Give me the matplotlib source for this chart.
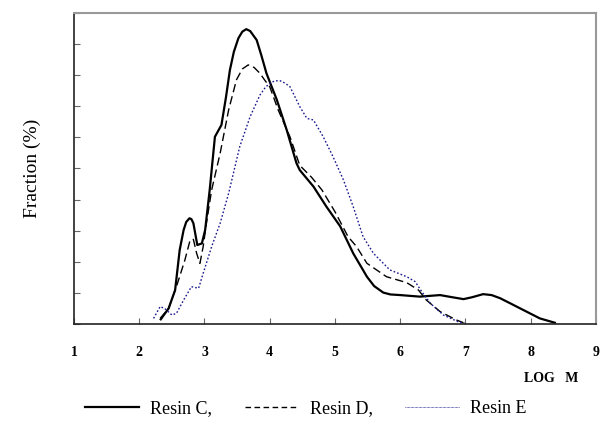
import matplotlib
matplotlib.use("Agg")
import matplotlib.pyplot as plt
from matplotlib.lines import Line2D

# GPC curves (LOG M vs fraction)
resin_c_x = [2.33, 2.45, 2.55, 2.62, 2.68, 2.72, 2.77, 2.80, 2.83, 2.89, 2.96,
             3.01, 3.08, 3.16, 3.26, 3.33, 3.39, 3.45, 3.52, 3.58, 3.64, 3.70,
             3.80, 3.87, 3.95, 4.11, 4.26, 4.41, 4.46, 4.67, 4.87, 5.08, 5.28,
             5.49, 5.60, 5.74, 5.85, 6.00, 6.30, 6.61, 6.80, 6.97, 7.10, 7.27,
             7.40, 7.53, 7.70, 7.84, 8.14, 8.37]
resin_c_y = [0.15, 0.50, 1.09, 2.38, 3.02, 3.28, 3.40, 3.37, 3.24, 2.54, 2.59,
             3.02, 4.31, 6.02, 6.40, 7.30, 8.17, 8.75, 9.19, 9.40, 9.48, 9.42,
             9.13, 8.65, 8.06, 7.20, 6.24, 5.17, 4.95, 4.42, 3.77, 3.14, 2.27,
             1.52, 1.22, 1.01, 0.95, 0.93, 0.88, 0.93, 0.86, 0.80, 0.86, 0.96,
             0.93, 0.83, 0.65, 0.50, 0.18, 0.04]

resin_d_x = [2.32, 2.45, 2.57, 2.70, 2.78, 2.83, 2.88, 2.93, 2.98, 3.03, 3.11,
             3.24, 3.37, 3.49, 3.58, 3.67, 3.76, 3.85, 3.92, 4.00, 4.13, 4.31,
             4.46, 4.64, 4.80, 5.00, 5.20, 5.33, 5.49, 5.79, 6.10, 6.28, 6.40,
             6.61, 6.86, 6.97]
resin_d_y = [0.18, 0.50, 1.20, 2.06, 2.70, 2.72, 2.27, 1.95, 2.49, 3.24, 4.31,
             5.49, 6.88, 7.85, 8.20, 8.33, 8.25, 8.06, 7.85, 7.63, 6.88, 6.02,
             5.10, 4.72, 4.31, 3.61, 2.81, 2.49, 1.95, 1.52, 1.33, 1.09, 0.77,
             0.40, 0.13, 0.04]

resin_e_x = [2.22, 2.32, 2.39, 2.50, 2.57, 2.68, 2.80, 2.91, 2.98, 3.11, 3.24,
             3.37, 3.54, 3.70, 3.85, 3.93, 4.00, 4.08, 4.16, 4.23, 4.31, 4.46,
             4.57, 4.67, 4.82, 4.97, 5.13, 5.28, 5.43, 5.59, 5.84, 6.10, 6.23,
             6.33, 6.46, 6.66, 6.89, 6.99]
resin_e_y = [0.18, 0.56, 0.50, 0.29, 0.34, 0.77, 1.20, 1.15, 1.63, 2.49, 3.24,
             4.20, 5.70, 6.67, 7.36, 7.60, 7.74, 7.82, 7.82, 7.75, 7.63, 6.99,
             6.61, 6.56, 6.02, 5.38, 4.63, 3.77, 2.81, 2.27, 1.74, 1.52, 1.36,
             1.04, 0.67, 0.29, 0.07, 0.02]

x_ticks = [1, 2, 3, 4, 5, 6, 7, 8, 9]

plt.rcParams['font.family'] = ['Liberation Serif', 'DejaVu Serif']

fig = plt.figure(figsize=(6, 4.3), dpi=100)
ax = fig.add_axes([0.1233, 0.2465, 0.87, 0.7233])

ax.plot(resin_c_x, resin_c_y, color='black', lw=1.6, ls='-')
ax.plot(resin_d_x, resin_d_y, color='black', lw=1.0, ls=(0, (6, 3)))
ax.plot(resin_e_x, resin_e_y, color='#1a1a8c', lw=1.0, ls=(0, (1.2, 1.5)))

ax.set_xlim(1, 9)
ax.set_ylim(0, 10)
ax.set_xticks(x_ticks)
ax.set_xticklabels([str(t) for t in x_ticks], fontweight='bold', fontsize=10)
ax.set_yticks(range(0, 11))
ax.set_yticklabels([])
ax.tick_params(axis='both', direction='in', length=4, color='#666666', width=0.8)
ax.tick_params(axis='x', pad=16)

for side in ['top', 'right']:
    ax.spines[side].set_color('#999999')
    ax.spines[side].set_linewidth(1.5)
for side in ['left', 'bottom']:
    ax.spines[side].set_color('#222222')
    ax.spines[side].set_linewidth(1.2)

ax.set_ylabel('Fraction (%)', fontsize=14, labelpad=20)
fig.text(0.918, 0.12, 'LOG   M', fontsize=10, fontweight='bold',
         ha='center', va='center')

handles = [Line2D([], [], color='black', lw=1.6, ls='-'),
           Line2D([], [], color='black', lw=1.0, ls=(0, (4, 2.5))),
           Line2D([], [], color='#1a1a8c', lw=0.6, ls=(0, (0.8, 0.8)))]
fig.legend(handles, ['Resin C,', 'Resin D,', 'Resin E'], loc='center',
           bbox_to_anchor=(0.51, 0.05), ncol=3, frameon=False, fontsize=13,
           handlelength=3.0, handletextpad=0.6, columnspacing=1.8)

fig.savefig('out.png', dpi=100)
